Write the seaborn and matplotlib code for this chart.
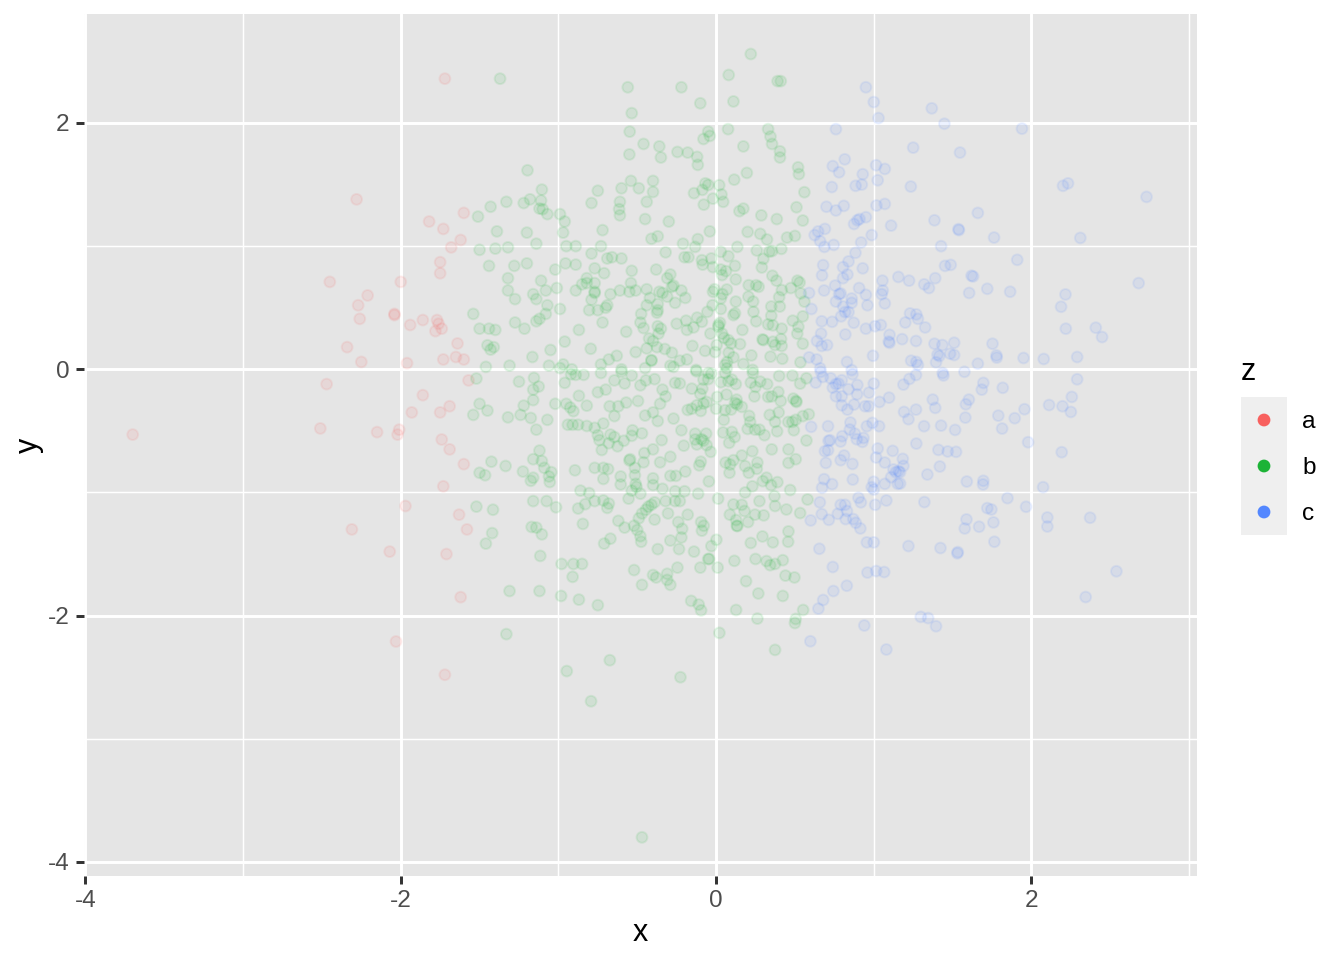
import matplotlib
matplotlib.use("Agg")
import matplotlib.pyplot as plt
import pandas as pd
import seaborn as sns

# values, (x, y)
points_a = [
    (-1.72,2.36),(-2.28,1.38),(-2.45,0.71),(-2.27,0.52),(-2.26,0.41),(-2.21,0.60),(-2.00,0.71),(-2.04,0.45),
    (-2.04,0.44),(-1.94,0.36),(-1.86,0.40),(-1.77,0.40),(-1.76,0.37),(-1.74,0.33),(-1.78,0.31),(-2.34,0.18),
    (-2.25,0.06),(-1.96,0.05),(-1.73,0.08),(-1.65,0.10),(-1.60,0.08),(-1.64,0.21),(-1.82,1.20),(-1.73,1.14),
    (-1.60,1.27),(-1.62,1.05),(-1.68,0.99),(-1.75,0.87),(-1.75,0.78),(-2.47,-0.12),(-1.86,-0.21),(-1.93,-0.35),
    (-1.69,-0.30),(-1.75,-0.35),(-1.57,-0.09),(-2.51,-0.48),(-2.15,-0.51),(-2.01,-0.49),(-2.02,-0.53),(-1.74,-0.57),
    (-1.69,-0.65),(-1.60,-0.77),(-1.73,-0.95),(-1.97,-1.11),(-1.63,-1.18),(-1.58,-1.30),(-2.31,-1.30),(-2.07,-1.48),
    (-1.71,-1.50),(-1.62,-1.85),(-2.03,-2.21),(-1.72,-2.48),(-3.70,-0.53),
]

points_b = [
    (-1.37,2.36),(-1.196,1.616),(-1.105,1.459),(-1.18,1.38),(-1.11,1.37),(-1.22,1.35),(-1.33,1.36),(-1.43,1.32),
    (-1.51,1.24),(-1.12,1.305),(-1.10,1.30),(-1.07,1.26),(-0.99,1.26),(-0.96,1.20),(-0.97,1.11),(-1.39,1.12),
    (-1.20,1.11),(-1.14,1.02),(-1.50,0.97),(-1.40,0.98),(-1.32,0.99),(-0.95,1.00),(-0.89,1.00),(-0.73,1.00),
    (-0.72,1.13),(-0.79,1.35),(-0.75,1.45),(-0.60,1.47),(-0.54,1.53),(-0.49,1.47),(-0.40,1.53),(-0.40,1.44),
    (-0.61,1.36),(-0.615,1.30),(-0.61,1.25),(-0.44,1.36),(-0.45,1.22),(-0.30,1.20),(-0.41,1.06),(-0.37,1.08),
    (-0.21,1.02),(-0.32,0.95),(-0.79,0.94),(-0.69,0.90),
    (-0.66,0.91),(-0.60,0.90),(-0.20,0.91),(-0.175,0.91),(-1.44,0.84),(-1.28,0.84),(-1.20,0.86),(-1.02,0.81),
    (-0.955,0.86),(-0.89,0.85),(-0.77,0.82),(-0.71,0.78),(-0.535,0.80),(-0.38,0.81),(-0.29,0.77),(-0.31,0.74),
    (-1.32,0.74),(-1.11,0.72),(-0.82,0.74),(-0.85,0.69),(-0.82,0.70),(-0.77,0.70),(-0.54,0.70),(-0.27,0.68),
    (-0.28,0.67),(-1.32,0.64),(-1.08,0.64),(-1.01,0.66),(-0.89,0.64),(-0.77,0.63),(-0.77,0.62),(-0.61,0.64),
    (-0.55,0.63),(-0.51,0.64),(-0.44,0.65),(-0.36,0.63),(-0.34,0.62),(-0.22,0.64),(-1.16,0.61),(-1.14,0.57),
    (-1.275,0.57),(-0.79,0.565),(-0.67,0.61),(-0.42,0.58),(-0.31,0.59),(-0.195,0.58),(-1.07,0.52),(-0.99,0.49),
    (-0.805,0.48),(-0.75,0.48),(-0.69,0.52),(-0.70,0.50),(-0.44,0.52),(-0.37,0.53),(-0.37,0.48),(-0.375,0.46),
    (-0.26,0.54),(-1.54,0.45),(-1.08,0.45),(-0.475,0.45),(-1.12,0.41),(-1.14,0.39),(-1.275,0.38),(-0.72,0.38),
    (-0.48,0.38),(-0.25,0.37),(-0.19,0.395),(-1.50,0.33),(-1.44,0.33),(-1.40,0.32),(-1.215,0.33),(-0.87,0.32),
    (-0.57,0.305),(-0.46,0.335),(-0.37,0.35),(-0.35,0.33),(-0.365,0.29),(-0.185,0.32),(-0.96,0.225),(-0.425,0.25),
    (-0.40,0.23),(-1.45,0.195),(-1.41,0.18),(-1.43,0.16),(-0.44,0.17),(-0.375,0.18),(-0.325,0.165),(-0.28,0.135),
    (-0.795,0.167),(-1.05,0.157),(-1.165,0.10),(-0.51,0.14),(-0.63,0.11),(-0.68,0.08),(-0.41,0.07),(-0.41,0.075),
    (-0.23,0.07),(-0.185,0.08),(-1.46,0.02),(-1.31,0.03),(-1.06,0.03),(-0.97,0.04),(-0.99,0.01),(-0.73,0.04),
    (-0.60,0.0),(-0.45,0.01),(-0.29,0.03),(-0.27,0.02),(-0.915,0.0),
    (-1.52,-0.075),(-1.25,-0.10),(-1.155,-0.07),(-1.125,-0.14),(-1.16,-0.165),(-1.16,-0.25),(-1.50,-0.28),
    (-1.45,-0.335),(-1.54,-0.37),(-1.22,-0.295),(-1.24,-0.37),(-1.32,-0.39),(-1.175,-0.395),(-1.07,-0.41),
    (-1.14,-0.49),(-0.96,-0.11),(-0.92,-0.04),(-0.89,-0.045),(-0.84,-0.045),(-0.73,-0.03),(-0.60,-0.02),
    (-0.535,-0.05),(-0.58,-0.115),(-0.645,-0.09),(-0.48,-0.13),(-0.445,-0.09),(-0.39,-0.08),(-0.26,-0.11),
    (-0.23,-0.115),(-0.87,-0.215),(-0.75,-0.186),(-0.70,-0.165),(-0.34,-0.165),(-0.32,-0.22),(-1.02,-0.28),
    (-0.95,-0.28),(-0.925,-0.31),(-0.905,-0.34),(-0.82,-0.295),(-0.675,-0.30),(-0.62,-0.30),(-0.57,-0.27),
    (-0.495,-0.257),(-0.355,-0.28),(-0.645,-0.38),(-0.45,-0.375),(-0.40,-0.35),(-0.37,-0.42),(-0.27,-0.40),
    (-0.18,-0.33),(-0.94,-0.45),(-0.91,-0.45),(-0.875,-0.45),(-0.82,-0.46),(-0.77,-0.475),(-0.715,-0.44),
    (-0.75,-0.535),(-0.74,-0.575),(-0.67,-0.53),(-0.645,-0.55),(-0.68,-0.60),(-0.625,-0.625),(-0.585,-0.58),
    (-0.53,-0.495),(-0.535,-0.54),(-0.47,-0.52),(-0.725,-0.655),(-0.22,-0.495),(-0.345,-0.575),(-0.205,-0.62),
    (-0.40,-0.65),(-0.455,-0.68),(-0.29,-0.71),(-0.545,-0.73),(-0.55,-0.74),(-0.46,-0.755),(-0.355,-0.755),
    (-1.12,-0.66),(-1.16,-0.73),(-1.105,-0.745),(-1.425,-0.75),(-1.335,-0.785),(-1.09,-0.80),(-1.50,-0.84),
    (-1.465,-0.86),(-1.225,-0.83),(-1.045,-0.835),(-0.895,-0.82),(-0.77,-0.80),(-0.715,-0.80),(-0.685,-0.81),
    (-0.515,-0.80),(-1.06,-0.87),(-1.16,-0.88),(-1.175,-0.905),(-1.055,-0.915),(-0.715,-0.89),(-0.605,-0.87),
    (-0.515,-0.86),(-0.29,-0.865),(-0.255,-0.865),(-0.195,-0.83),(-0.605,-0.935),(-0.51,-0.93),(-0.505,-0.955),
    (-0.40,-0.94),(-0.40,-0.885),(-0.34,-0.97),(-0.86,-0.985),(-0.805,-1.005),(-0.535,-0.985),(-0.48,-1.01),
    (-0.26,-0.99),(-0.20,-0.99),(-0.77,-1.07),(-0.715,-1.065),(-0.68,-1.09),(-0.69,-1.125),(-0.83,-1.095),
    (-0.875,-1.13),(-0.555,-1.05),(-1.16,-1.07),(-1.075,-1.07),(-1.015,-1.12),(-1.52,-1.115),(-1.415,-1.14),
    (-0.39,-1.08),(-0.41,-1.10),(-0.43,-1.115),(-0.445,-1.14),(-0.47,-1.17),(-0.32,-1.07),(-0.26,-1.07),
    (-0.23,-1.07),(-0.305,-1.17),(-0.49,-1.21),(-0.39,-1.22),(-0.18,-1.18),(-0.62,-1.23),(-0.845,-1.255),
    (-1.17,-1.28),(-1.14,-1.285),(-0.58,-1.285),(-0.52,-1.27),(-0.50,-1.305),(-0.24,-1.24),(-0.215,-1.295),
    (-1.42,-1.33),(-1.105,-1.34),(-0.48,-1.355),(-0.22,-1.365),(-1.46,-1.415),(-0.475,-1.40),(-0.67,-1.375),
    (-0.71,-1.415),(-0.29,-1.39),(-0.37,-1.46),(-0.235,-1.46),(-1.115,-1.515),(-0.98,-1.58),(-0.905,-1.58),
    (-0.85,-1.58),(-0.52,-1.63),(-0.245,-1.61),(-0.91,-1.685),(-0.40,-1.67),(-0.38,-1.69),(-0.31,-1.66),
    (-0.31,-1.71),(-0.29,-1.75),(-0.47,-1.75),(-1.31,-1.80),(-1.12,-1.80),(-0.983,-1.84),(-0.87,-1.87),
    (-0.75,-1.915),(-1.33,-2.15),(-0.947,-2.45),(-0.793,-2.695),(-0.47,-3.80),
    (0.22,2.56),(-0.56,2.29),(-0.22,2.29),(0.08,2.39),(0.39,2.34),(0.41,2.34),(-0.535,2.08),(-0.10,2.16),
    (0.11,2.175),(-0.548,1.93),(-0.05,1.93),(-0.04,1.895),(-0.08,1.87),(0.076,1.95),(0.33,1.95),(0.345,1.89),
    (0.355,1.83),(0.405,1.77),(0.405,1.72),(-0.46,1.83),(-0.36,1.81),(-0.55,1.745),(-0.35,1.72),(-0.245,1.765),
    (-0.18,1.76),(-0.12,1.725),(-0.116,1.66),(0.173,1.81),(0.52,1.64),(0.525,1.585),(0.195,1.595),(0.115,1.54),
    (-0.14,1.43),(-0.087,1.457),(-0.068,1.51),(-0.05,1.497),(0.02,1.495),(0.034,1.42),(0.045,1.36),(-0.02,1.386),
    (-0.078,1.337),(0.148,1.284),(0.173,1.305),(0.287,1.25),(0.385,1.22),(0.51,1.316),(0.56,1.438),(0.55,1.208),
    (-0.04,1.12),(0.20,1.116),(0.28,1.10),(0.323,1.054),(0.45,1.07),(0.50,1.083),(-0.116,1.057),(-0.133,0.994),
    (0.135,0.994),(0.258,0.965),(0.338,0.956),(0.355,0.96),(0.414,0.978),(0.03,0.954),(0.078,0.918),(-0.03,0.90),
    (-0.09,0.886),(-0.085,0.85),(0.30,0.897),(0.29,0.827),(0.12,0.84),(-0.02,0.83),(0.03,0.81),(0.063,0.797),
    (0.038,0.765),(0.125,0.73),(0.357,0.76),(0.383,0.72),(0.516,0.72),(0.53,0.705),(0.207,0.683),(0.254,0.683),
    (0.27,0.67),(0.068,0.648),(-0.01,0.65),(-0.02,0.63),(0.417,0.643),(0.474,0.66),(0.537,0.616),(0.04,0.61),
    (0.03,0.575),(0.205,0.59),(0.40,0.586),(0.56,0.55),(0.125,0.55),(0.235,0.55),(-0.023,0.52),(0.03,0.49),
    (0.35,0.51),(0.404,0.51),(-0.055,0.467),(0.11,0.44),(0.12,0.455),(0.237,0.467),(-0.12,0.42),(-0.09,0.386),
    (0.025,0.378),(0.015,0.36),(0.015,0.345),(0.35,0.435),(0.254,0.39),(0.33,0.365),(0.36,0.357),(0.486,0.395),
    (0.55,0.43),(0.522,0.345),(0.416,0.33),(0.167,0.32),(0.515,0.29),(-0.143,0.34),(-0.036,0.29),(0.038,0.29),
    (0.05,0.256),(0.078,0.237),(0.095,0.21),(0.152,0.205),(0.294,0.243),(0.30,0.237),(0.36,0.224),(0.412,0.246),
    (0.416,0.19),(0.374,0.197),(0.55,0.208),(-0.15,0.19),(-0.07,0.15),(-0.006,0.14),(0.004,0.197),(0.08,0.135),
    (0.11,0.097),(0.224,0.113),(0.345,0.103),(0.42,0.086),(0.535,0.057),(0.173,0.043),(0.07,0.06),(0.057,0.035),
    (0.068,0.008),(-0.127,-0.005),(0.232,-0.005),
    (-0.125,-0.016),(-0.05,-0.03),(0.057,-0.03),(-0.03,-0.035),(0.233,-0.03),(0.40,-0.054),(0.484,-0.05),
    (0.573,-0.073),(0.533,-0.116),(-0.08,-0.084),(-0.05,-0.08),(0.03,-0.105),(0.078,-0.097),(0.10,-0.084),
    (0.125,-0.12),(0.22,-0.108),(0.28,-0.10),(0.25,-0.143),(0.324,-0.12),(-0.154,-0.157),(-0.087,-0.157),
    (-0.10,-0.20),(0.243,-0.22),(0.395,-0.184),(0.007,-0.224),(0.066,-0.205),(0.33,-0.224),(0.353,-0.22),
    (0.41,-0.257),(0.49,-0.238),(0.507,-0.257),(0.51,-0.265),(0.13,-0.246),(0.12,-0.273),(0.133,-0.284),
    (0.163,-0.305),(-0.06,-0.265),(-0.08,-0.278),(-0.122,-0.292),(-0.154,-0.32),(-0.097,-0.338),(0.0,-0.32),
    (0.057,-0.332),(0.095,-0.327),(0.21,-0.378),(0.397,-0.35),(0.34,-0.37),(0.588,-0.365),(0.55,-0.38),
    (0.505,-0.41),(0.458,-0.427),(0.484,-0.427),(0.049,-0.41),(0.216,-0.427),(0.374,-0.427),(0.20,-0.484),
    (0.247,-0.49),(0.275,-0.49),(0.387,-0.503),(0.493,-0.495),(-0.133,-0.522),(-0.063,-0.522),(0.044,-0.513),
    (0.10,-0.508),(0.307,-0.535),(-0.133,-0.57),(-0.093,-0.568),(0.118,-0.55),(0.573,-0.578),(-0.122,-0.61),
    (-0.08,-0.58),(-0.06,-0.616),(0.083,-0.597),(-0.034,-0.67),(0.23,-0.665),(0.353,-0.65),(0.459,-0.65),
    (0.163,-0.70),(-0.097,-0.75),(-0.107,-0.78),(0.06,-0.757),(0.11,-0.738),(0.089,-0.773),(0.262,-0.757),
    (0.505,-0.73),(0.459,-0.76),(0.184,-0.786),(0.258,-0.808),(0.085,-0.84),(0.207,-0.84),(-0.046,-0.91),
    (0.32,-0.88),(0.296,-0.908),(0.349,-0.94),(0.389,-0.916),(0.23,-0.95),(0.47,-0.98),(0.184,-1.0),
    (-0.114,-1.01),(0.37,-1.03),(0.013,-1.05),(0.275,-1.07),(0.58,-1.057),(0.11,-1.097),(0.163,-1.10),
    (0.374,-1.11),(0.446,-1.138),(0.533,-1.167),(0.18,-1.15),(0.087,-1.18),(0.247,-1.18),(0.302,-1.186),
    (0.127,-1.224),(0.203,-1.24),(0.131,-1.27),(0.135,-1.273),(-0.095,-1.24),(-0.078,-1.27),(-0.09,-1.31),
    (0.459,-1.316),(0.002,-1.384),(-0.03,-1.435),(0.294,-1.357),(0.22,-1.41),(0.36,-1.405),(0.457,-1.40),
    (-0.14,-1.48),(-0.05,-1.54),(-0.044,-1.54),(0.116,-1.555),(0.25,-1.54),(0.32,-1.557),(0.343,-1.59),
    (0.374,-1.58),(0.423,-1.55),(-0.10,-1.61),(0.01,-1.61),(0.44,-1.675),(0.497,-1.69),(0.19,-1.72),
    (0.268,-1.82),(0.423,-1.84),(-0.158,-1.88),(-0.11,-1.91),(-0.095,-1.957),(0.127,-1.954),(0.552,-1.954),
    (0.262,-2.024),(0.505,-2.027),(0.50,-2.06),(0.021,-2.14),(0.374,-2.278),(-0.674,-2.362),(-0.226,-2.50),
]

points_c = [
    (0.95,2.29),(1.0,2.17),(1.03,2.04),(0.76,1.95),(1.25,1.80),(0.816,1.705),(0.74,1.65),(0.78,1.60),
    (1.015,1.657),(1.07,1.627),(0.93,1.584),(1.025,1.535),(0.924,1.50),(0.885,1.49),(0.734,1.48),(1.235,1.484),
    (0.70,1.32),(0.76,1.29),(0.81,1.327),(1.017,1.33),(1.07,1.343),(0.95,1.235),(0.91,1.22),(0.896,1.21),
    (0.875,1.18),(1.11,1.167),(0.69,1.14),(0.647,1.12),(0.625,1.09),(0.66,1.04),(0.987,1.09),(0.92,1.03),
    (0.687,0.994),(0.746,1.01),(0.884,0.946),(0.84,0.876),(0.679,0.846),(0.805,0.83),(0.93,0.82),(0.672,0.763),
    (0.833,0.77),(0.805,0.74),(1.156,0.75),(1.224,0.72),(1.055,0.72),(0.755,0.68),(0.685,0.64),(0.907,0.66),
    (1.057,0.64),(1.05,0.61),(0.59,0.62),(0.79,0.616),(0.78,0.61),(0.95,0.605),(0.86,0.575),(0.76,0.55),
    (0.86,0.54),(0.806,0.51),(0.96,0.52),(1.07,0.535),(0.605,0.49),(0.818,0.465),(0.84,0.465),(0.793,0.43),
    (1.23,0.454),(1.27,0.446),(0.67,0.39),(0.736,0.386),(0.873,0.378),(1.20,0.38),(1.28,0.41),(0.95,0.33),
    (1.008,0.35),(1.045,0.36),(0.666,0.29),(0.82,0.283),(1.10,0.28),(0.64,0.23),(1.095,0.225),(1.10,0.215),
    (1.18,0.245),(1.268,0.23),(0.67,0.19),(0.704,0.197),(0.59,0.097),(0.638,0.08),(0.995,0.11),(0.83,0.06),
    (1.237,0.07),(1.27,0.06),(1.28,0.035),(0.66,0.008),(0.86,-0.006),
    (1.368,2.119),(1.448,1.994),(1.94,1.954),(1.547,1.76),(2.20,1.49),(2.232,1.51),(2.73,1.40),(1.66,1.27),
    (1.385,1.21),(1.537,1.138),(1.54,1.13),(1.763,1.07),(2.31,1.067),(1.427,1.0),(1.91,0.889),(1.452,0.84),
    (1.488,0.848),(1.32,0.69),(1.35,0.66),(1.39,0.74),(1.62,0.76),(1.63,0.754),(2.68,0.70),(1.72,0.654),
    (1.605,0.62),(1.865,0.63),(2.216,0.608),(2.188,0.508),(1.326,0.34),(2.218,0.33),(2.408,0.338),(2.448,0.262),
    (1.385,0.208),(1.435,0.197),(1.51,0.216),(1.753,0.208),(1.778,0.113),(1.78,0.095),(1.404,0.119),(1.416,0.108),
    (1.484,0.127),(1.51,0.116),(1.95,0.092),(2.078,0.084),(2.29,0.10),(1.395,0.057),(1.66,0.046),(1.575,-0.02),
    (1.437,-0.03),
    (1.268,-0.046),(1.226,-0.078),(1.188,-0.124),(1.442,-0.05),(1.695,-0.11),(1.685,-0.165),(1.818,-0.15),
    (2.29,-0.081),(2.256,-0.224),(2.112,-0.29),(2.197,-0.30),(2.25,-0.346),(1.374,-0.246),(1.603,-0.246),
    (1.584,-0.284),(1.39,-0.313),(1.268,-0.327),(1.192,-0.346),(1.22,-0.405),(1.581,-0.392),(1.79,-0.376),
    (1.894,-0.397),(1.956,-0.324),(1.319,-0.462),(1.427,-0.457),(1.516,-0.492),(1.814,-0.481),(1.979,-0.592),
    (1.27,-0.603),(1.41,-0.654),(1.469,-0.667),(1.522,-0.67),(2.192,-0.673),(1.184,-0.727),(1.188,-0.784),
    (1.419,-0.789),(1.167,-0.835),(1.34,-0.854),(1.59,-0.911),(1.695,-0.905),(1.693,-0.935),(1.167,-0.927),
    (2.074,-0.957),(1.321,-1.078),(1.848,-1.046),(1.966,-1.116),(1.72,-1.127),(1.746,-1.138),(2.101,-1.203),
    (2.101,-1.276),(2.372,-1.205),(1.588,-1.219),(1.577,-1.292),(1.668,-1.278),(1.759,-1.243),(1.765,-1.40),
    (1.22,-1.435),(1.423,-1.451),(1.533,-1.484),(1.53,-1.494),(2.539,-1.64),(2.344,-1.849),(1.298,-2.01),
    (1.345,-2.02),(1.395,-2.086),
    (0.664,-0.02),(0.865,-0.04),(0.632,-0.108),(0.677,-0.062),(0.727,-0.073),(0.776,-0.116),(0.76,-0.12),
    (0.797,-0.089),(0.896,-0.127),(1.0,-0.116),(0.74,-0.149),(0.84,-0.162),(0.894,-0.203),(0.97,-0.189),
    (0.76,-0.219),(0.797,-0.219),(1.097,-0.23),(1.036,-0.265),(0.797,-0.292),(0.875,-0.286),(0.833,-0.327),
    (0.945,-0.30),(0.968,-0.30),(0.603,-0.467),(0.71,-0.462),(0.852,-0.432),(0.992,-0.435),(0.956,-0.462),
    (1.034,-0.462),(0.848,-0.489),(0.88,-0.522),(0.80,-0.543),(0.723,-0.576),(0.713,-0.581),(0.79,-0.586),
    (0.892,-0.568),(0.935,-0.557),(0.928,-0.589),(0.71,-0.657),(0.69,-0.665),(1.025,-0.643),(1.12,-0.662),
    (0.812,-0.70),(1.015,-0.716),(0.79,-0.738),(0.696,-0.76),(0.865,-0.768),(1.07,-0.757),(1.125,-0.813),
    (1.157,-0.827),(1.14,-0.835),(1.11,-0.876),(0.685,-0.892),(0.867,-0.895),(1.0,-0.913),(1.07,-0.93),
    (1.152,-0.93),(0.736,-0.932),(0.672,-0.962),(0.987,-0.957),(1.0,-0.976),(0.903,-1.043),(0.918,-1.08),
    (1.08,-1.065),(1.009,-1.10),(0.658,-1.08),(0.79,-1.10),(0.818,-1.10),(0.83,-1.15),(0.67,-1.176),
    (0.772,-1.173),(0.60,-1.227),(0.715,-1.222),(0.822,-1.216),(0.87,-1.216),(0.886,-1.246),(0.915,-1.292),
    (0.956,-1.405),(1.0,-1.405),(0.655,-1.457),(0.74,-1.605),(0.96,-1.65),(1.015,-1.638),(1.066,-1.646),
    (0.829,-1.757),(0.744,-1.80),(0.679,-1.873),(0.649,-1.943),(0.94,-2.08),(0.598,-2.208),(1.08,-2.275),
]

groups = ["a", "b", "c"]
colors = ["#F8605E", "#1CB336", "#5387FF"]
major_ticks = [-4, -2, 0, 2]
major_labels = ["-4", "-2", "0", "2"]
x_minor = [-3, -1, 1, 3]
y_minor = [-3, -1, 1]

rows = []
for name, pts in zip(groups, [points_a, points_b, points_c]):
    for px, py in pts:
        rows.append({"x": px, "y": py, "z": name})
df = pd.DataFrame(rows)
palette = dict(zip(groups, colors))

sns.set_theme(style="darkgrid", rc={"axes.facecolor": "#E5E5E5"})
plt.rcParams["font.family"] = ["Liberation Sans", "DejaVu Sans"]

W, H = 1344, 960
fig = plt.figure(figsize=(W / 200, H / 200), dpi=200, facecolor="white")
ax = fig.add_axes([83.5 / W, (H - 876) / H, (1197 - 83.5) / W, (876 - 14) / H])
ax.set_axisbelow(True)

sns.scatterplot(data=df, x="x", y="y", hue="z", palette=palette, alpha=0.1, s=15.2,
                linewidth=0.7, edgecolor="face", legend=False, ax=ax, zorder=3)

ax.set_xlim(-4.012, 3.05)
ax.set_ylim(-4.114, 2.885)
ax.set_xticks(major_ticks, major_labels)
ax.set_yticks(major_ticks, major_labels)
ax.set_xticks(x_minor, minor=True)
ax.set_yticks(y_minor, minor=True)
ax.grid(True, which="major", color="white", linewidth=1.07)
ax.grid(True, which="minor", color="white", linewidth=0.53)
ax.tick_params(which="major", direction="out", length=2.75, width=1.07, color="#333333",
               labelsize=8.8, labelcolor="#4D4D4D", pad=2.2, bottom=True, left=True)
ax.tick_params(which="minor", length=0)
for s in ax.spines.values():
    s.set_visible(False)
ax.set_xlabel("x", fontsize=11, color="black", labelpad=2.4)
ax.set_ylabel("y", fontsize=11, color="black", labelpad=1.4)

# legend
leg = fig.add_axes([1241 / W, (H - 535) / H, 46 / W, 138 / H], facecolor="#EFEFEF")
key_df = pd.DataFrame({"x": [0, 0, 0], "y": [2, 1, 0], "z": groups})
sns.scatterplot(data=key_df, x="x", y="y", hue="z", palette=palette, s=15.2, linewidth=0.7,
                edgecolor="face", legend=False, ax=leg)
leg.set_xlim(-0.5, 0.5)
leg.set_ylim(-0.5, 2.5)
leg.set_xticks([])
leg.set_yticks([])
leg.set_xlabel("")
leg.set_ylabel("")
leg.grid(False)
for s in leg.spines.values():
    s.set_visible(False)
for yy, name in zip([2, 1, 0], groups):
    leg.annotate(name, (0, yy), xycoords="data", xytext=(1302, -0.6), textcoords=("figure pixels", "offset points"),
                 fontsize=8.8, va="center", ha="left", color="black")
fig.text(1241 / W, (H - 372) / H, "z", fontsize=11, va="center", ha="left", color="black")

fig.savefig("out.png", dpi=200)
